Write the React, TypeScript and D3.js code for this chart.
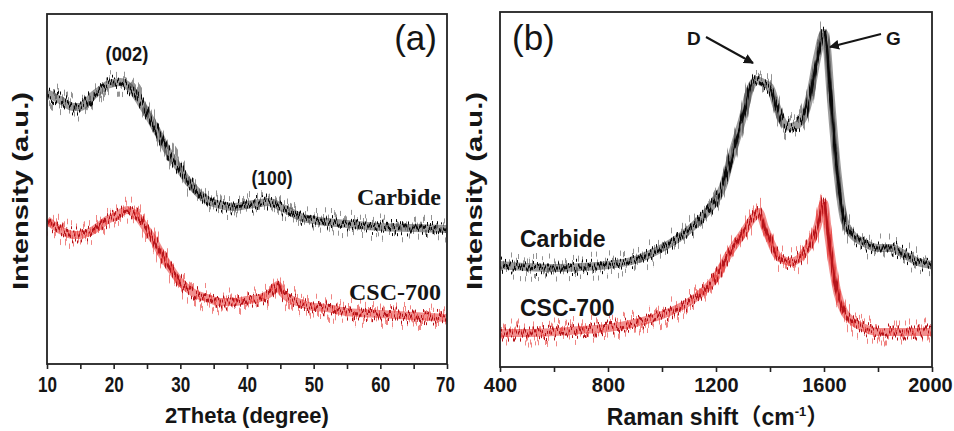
import React, { useEffect, useRef } from 'react';
import * as d3 from 'd3';

// (a) XRD, 2theta in degrees, intensity in arbitrary units
const xrdCarbideAngle = [10, 12, 14, 15, 16, 17, 18, 19, 20, 21, 22, 23, 24, 25, 26, 27, 28, 29, 30, 31, 32, 33, 34, 35, 36, 38, 40, 42, 43, 44, 45, 46, 48, 50, 52, 55, 60, 65, 70];
const xrdCarbide = [271, 264, 257, 257, 262, 269, 274, 279, 281, 282, 279, 272, 262, 251, 239, 227, 214, 204, 194, 184, 176, 169, 164, 161, 159, 157, 159, 161, 162, 161, 157, 154, 147, 144, 142, 140, 137, 136, 135];

const xrdCscAngle = [10, 12, 14, 15, 16, 17, 18, 19, 20, 21, 22, 23, 24, 25, 26, 27, 28, 29, 30, 31, 32, 34, 36, 38, 40, 42, 43, 44, 44.6, 45.2, 46, 48, 50, 52, 55, 60, 65, 70];
const xrdCsc = [144, 134, 129, 129, 131, 134, 139, 144, 147, 151, 154, 151, 144, 134, 124, 112, 101, 91, 82, 76, 71, 66, 62, 62, 64, 66, 69, 74, 79, 72, 67, 61, 57, 56, 52, 50, 48, 46];

const xrdTicks = [10, 20, 30, 40, 50, 60, 70];
const xrdMinorTicks = [15, 25, 35, 45, 55, 65];

// (b) Raman, shift in cm-1
const ramanCarbideShift = [400, 500, 600, 700, 800, 900, 1000, 1050, 1100, 1150, 1200, 1225, 1250, 1275, 1300, 1325, 1350, 1375, 1400, 1425, 1450, 1475, 1500, 1525, 1550, 1575, 1600, 1610, 1625, 1650, 1675, 1700, 1750, 1800, 1850, 1900, 1950, 2000];
const ramanCarbide = [102, 100, 99, 100, 102, 107, 119, 127, 137, 150, 167, 180, 204, 227, 250, 277, 287, 284, 280, 260, 244, 240, 242, 250, 274, 310, 334, 322, 270, 194, 147, 134, 124, 119, 119, 112, 105, 102];

const ramanCscShift = [400, 500, 600, 700, 800, 900, 1000, 1100, 1150, 1200, 1250, 1300, 1340, 1360, 1380, 1400, 1425, 1450, 1475, 1500, 1525, 1550, 1575, 1600, 1615, 1625, 1650, 1675, 1700, 1750, 1800, 1900, 2000];
const ramanCsc = [34, 34, 35, 37, 39, 44, 52, 65, 75, 90, 114, 134, 150, 155, 140, 127, 112, 107, 105, 107, 114, 124, 140, 164, 134, 114, 74, 55, 47, 39, 35, 35, 35];

const ramanTicks = [400, 800, 1200, 1600, 2000];
const ramanMinorTicks = [600, 1000, 1400, 1800];

const SANS = "'Liberation Sans', Arial, Helvetica, sans-serif";
const SERIF = "'Liberation Serif', 'Times New Roman', serif";
const BLACK = '#151515';
const RED = '#e3201e';

function App() {
  const svgRef = useRef(null);

  useEffect(() => {
    const svg = d3.select(svgRef.current);
    svg.selectAll('*').remove();

    const defs = svg.append('defs');

    // jagged look of the noisy spectra (rendering only, vertical shift per column)
    const addJitter = (id, freq, scale, seed) => {
      const f = defs
        .append('filter')
        .attr('id', id)
        .attr('x', '-3%')
        .attr('y', '-25%')
        .attr('width', '106%')
        .attr('height', '150%')
        .attr('color-interpolation-filters', 'sRGB');
      f.append('feTurbulence')
        .attr('type', 'fractalNoise')
        .attr('baseFrequency', freq)
        .attr('numOctaves', 1)
        .attr('seed', seed)
        .attr('result', 'n');
      f.append('feColorMatrix')
        .attr('in', 'n')
        .attr('type', 'matrix')
        .attr('values', '2.6 0 0 0 -0.8  0 0 0 0 0.5  0 0 0 0 0  0 0 0 0 1')
        .attr('result', 'm');
      f.append('feDisplacementMap')
        .attr('in', 'SourceGraphic')
        .attr('in2', 'm')
        .attr('scale', scale)
        .attr('xChannelSelector', 'G')
        .attr('yChannelSelector', 'R');
    };
    addJitter('jitWide', '0.55 0.004', 24, 4);
    addJitter('jitCore', '0.8 0.004', 14, 9);

    defs
      .append('marker')
      .attr('id', 'arrowHead')
      .attr('viewBox', '0 0 10 10')
      .attr('refX', 9)
      .attr('refY', 5)
      .attr('markerWidth', 5)
      .attr('markerHeight', 5)
      .attr('orient', 'auto')
      .append('path')
      .attr('d', 'M0,0 L10,5 L0,10 z')
      .attr('fill', BLACK);

    function drawPanel(opts) {
      const { id, x, y, ticks, minor, tickLabelLength, tickPad, tickFont, series } = opts;
      const [x0, x1] = x.range();
      const [yb, yt] = y.range();

      defs
        .append('clipPath')
        .attr('id', 'clip-' + id)
        .append('rect')
        .attr('x', x0)
        .attr('y', yt)
        .attr('width', x1 - x0)
        .attr('height', yb - yt);

      const plot = svg.append('g').attr('clip-path', `url(#clip-${id})`);

      series.forEach((s) => {
        const pts = s.xs.map((v, i) => [v, s.ys[i]]);
        const line = d3
          .line()
          .x((d) => x(d[0]))
          .y((d) => y(d[1]))
          .curve(d3.curveMonotoneX);
        plot
          .append('path')
          .attr('d', line(pts))
          .attr('fill', 'none')
          .attr('stroke', s.band)
          .attr('stroke-opacity', 0.55)
          .attr('stroke-width', 5)
          .attr('filter', 'url(#jitWide)');
        plot
          .append('path')
          .attr('d', line(pts))
          .attr('fill', 'none')
          .attr('stroke', s.band)
          .attr('stroke-opacity', 0.5)
          .attr('stroke-width', 8);
        plot
          .append('path')
          .attr('d', line(pts))
          .attr('fill', 'none')
          .attr('stroke', s.core)
          .attr('stroke-width', 2.8)
          .attr('filter', 'url(#jitCore)');
      });

      // minor ticks
      svg
        .append('g')
        .attr('transform', `translate(0,${yb})`)
        .call(d3.axisBottom(x).tickValues(minor).tickSize(5).tickSizeOuter(0).tickFormat(() => ''))
        .call((g) => g.select('.domain').remove())
        .call((g) => g.selectAll('line').attr('stroke', '#222').attr('stroke-width', 1.6));

      // major ticks + labels
      const ax = svg
        .append('g')
        .attr('transform', `translate(0,${yb})`)
        .call(d3.axisBottom(x).tickValues(ticks).tickSize(5).tickSizeOuter(0).tickPadding(tickPad).tickFormat(d3.format('d')));
      ax.select('.domain').remove();
      ax.selectAll('line').attr('stroke', '#222').attr('stroke-width', 1.6);
      ax.selectAll('text')
        .attr('fill', BLACK)
        .style('font-family', SANS)
        .style('font-weight', 'bold')
        .style('font-size', tickFont + 'px');
      if (tickLabelLength) {
        ax.selectAll('text')
          .attr('textLength', tickLabelLength)
          .attr('lengthAdjust', 'spacingAndGlyphs');
      }
      // keep the last label inside the picture
      ax.selectAll('text').filter((d) => d === ticks[ticks.length - 1]).attr('dx', -2);

      // frame
      svg
        .append('rect')
        .attr('x', x0)
        .attr('y', yt)
        .attr('width', x1 - x0)
        .attr('height', yb - yt)
        .attr('fill', 'none')
        .attr('stroke', '#222')
        .attr('stroke-width', 1.8);
    }

    const xA = d3.scaleLinear().domain([10, 70]).range([47, 447]);
    const yA = d3.scaleLinear().domain([0, 350]).range([364, 14]);
    drawPanel({
      id: 'a',
      x: xA,
      y: yA,
      ticks: xrdTicks,
      minor: xrdMinorTicks,
      tickLabelLength: 19,
      tickPad: 7,
      tickFont: 22,
      series: [
        { xs: xrdCarbideAngle, ys: xrdCarbide, band: '#3a3a3a', core: '#0a0a0a' },
        { xs: xrdCscAngle, ys: xrdCsc, band: RED, core: '#b5141a' },
      ],
    });

    const xB = d3.scaleLinear().domain([400, 2000]).range([500, 932]);
    const yB = d3.scaleLinear().domain([0, 355]).range([367, 12]);
    drawPanel({
      id: 'b',
      x: xB,
      y: yB,
      ticks: ramanTicks,
      minor: ramanMinorTicks,
      tickLabelLength: 0,
      tickPad: 6,
      tickFont: 20,
      series: [
        { xs: ramanCarbideShift, ys: ramanCarbide, band: '#3a3a3a', core: '#0a0a0a' },
        { xs: ramanCscShift, ys: ramanCsc, band: RED, core: '#b5141a' },
      ],
    });

    const txt = (x, y, s, size, opts = {}) => {
      const t = svg
        .append('text')
        .attr('x', x)
        .attr('y', y)
        .attr('fill', BLACK)
        .attr('text-anchor', opts.anchor || 'start')
        .style('font-family', opts.family || SANS)
        .style('font-weight', opts.weight || 'bold')
        .style('font-size', size + 'px')
        .text(s);
      if (opts.length) t.attr('textLength', opts.length).attr('lengthAdjust', 'spacingAndGlyphs');
      return t;
    };

    // axis titles
    txt(247, 423, '2Theta (degree)', 22, { anchor: 'middle' });
    const rt = svg
      .append('text')
      .attr('x', 718)
      .attr('y', 425)
      .attr('fill', BLACK)
      .attr('text-anchor', 'middle')
      .style('font-family', SANS + ", 'Noto Sans CJK SC'")
      .style('font-weight', 'bold')
      .style('font-size', '23px');
    rt.append('tspan').text('Raman shift\uFF08cm');
    rt.append('tspan').attr('dy', -9).style('font-size', '13px').text('-1');
    rt.append('tspan').attr('dy', 9).text('\uFF09');

    [
      [28, 191],
      [482, 191],
    ].forEach(([x, y]) => {
      svg
        .append('text')
        .attr('transform', `translate(${x},${y}) rotate(-90)`)
        .attr('text-anchor', 'middle')
        .attr('fill', BLACK)
        .attr('textLength', 198)
        .attr('lengthAdjust', 'spacingAndGlyphs')
        .style('font-family', SANS)
        .style('font-weight', 'bold')
        .style('font-size', '22px')
        .text('Intensity (a.u.)');
    });

    // panel (a) annotations
    txt(437, 50, '(a)', 35, { anchor: 'end', weight: 'normal' });
    txt(127, 61, '(002)', 20, { anchor: 'middle', length: 43 });
    txt(272, 185, '(100)', 20, { anchor: 'middle', length: 41 });
    txt(441, 205, 'Carbide', 24, { anchor: 'end', family: SERIF });
    txt(441, 300, 'CSC-700', 24, { anchor: 'end', family: SERIF });

    // panel (b) annotations
    txt(512, 50, '(b)', 35, { weight: 'normal' });
    txt(520, 247, 'Carbide', 23);
    txt(520, 316, 'CSC-700', 23);
    txt(687, 45, 'D', 19);
    txt(886, 45, 'G', 19);
    svg
      .append('line')
      .attr('x1', 706)
      .attr('y1', 37)
      .attr('x2', 753)
      .attr('y2', 63)
      .attr('stroke', BLACK)
      .attr('stroke-width', 2)
      .attr('marker-end', 'url(#arrowHead)');
    svg
      .append('line')
      .attr('x1', 881)
      .attr('y1', 34)
      .attr('x2', 830)
      .attr('y2', 47)
      .attr('stroke', BLACK)
      .attr('stroke-width', 2)
      .attr('marker-end', 'url(#arrowHead)');
  }, []);

  return (
    <svg
      ref={svgRef}
      width={954}
      height={431}
      style={{ position: 'absolute', left: 0, top: 0, background: '#fff' }}
    />
  );
}

export default App;
